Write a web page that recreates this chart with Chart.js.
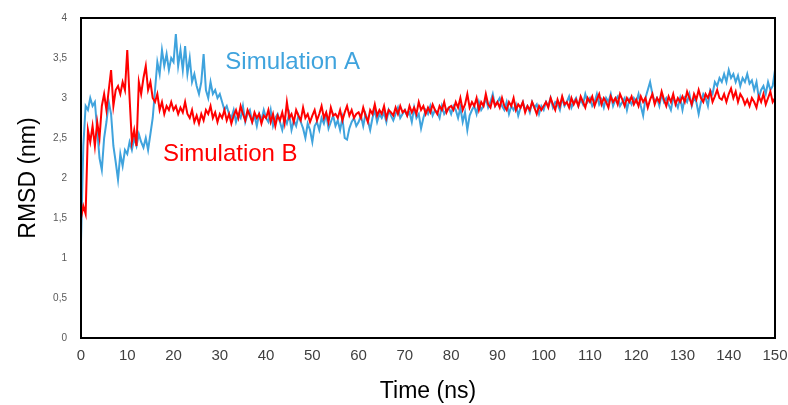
<!DOCTYPE html>
<html>
<head>
<meta charset="utf-8">
<script src="https://cdn.jsdelivr.net/npm/chart.js@4.4.1/dist/chart.umd.min.js"></script>
<style>
  html, body { margin: 0; padding: 0; background: #fff; }
  #wrap { width: 788px; height: 405px; }
</style>
</head>
<body>
<div id="wrap"><canvas id="rmsdChart" width="788" height="405"></canvas></div>
<script>
// Sampling step of the trajectory (ns)
const timeStep = 0.5;

// Simulation A (blue), RMSD in nm, one value every 0.5 ns from 0 to 150 ns
const simA = [
    1.2, 2.4, 2.9, 2.85, 3.0, 2.9, 2.95, 2.6, 2.25, 2.1, 2.5, 2.7, 2.95, 2.8, 2.4, 2.2, 1.98, 2.3, 2.15, 2.35,
    2.3, 2.45, 2.35, 2.5, 2.4, 2.55, 2.45, 2.38, 2.5, 2.35, 2.55, 2.75, 3.1, 3.45, 3.3, 3.6, 3.4, 3.55, 3.35, 3.5,
    3.45, 3.8, 3.4, 3.6, 3.35, 3.65, 3.3, 3.5, 3.2, 3.3, 3.15, 3.05, 3.2, 3.55, 3.1, 3.0, 3.2, 3.05, 3.1, 3.0,
    3.05, 2.95, 2.85, 2.9, 2.8, 2.75, 2.85, 2.7, 2.8, 2.75, 2.9, 2.7, 2.8, 2.85, 2.7, 2.78, 2.65, 2.8, 2.72, 2.85,
    2.75, 2.7, 2.85, 2.65, 2.75, 2.8, 2.7, 2.6, 2.75, 2.68, 2.8, 2.6, 2.72, 2.65, 2.78, 2.7, 2.62, 2.5, 2.68, 2.6,
    2.45, 2.65, 2.7, 2.6, 2.75, 2.68, 2.8, 2.62, 2.7, 2.78, 2.65, 2.72, 2.6, 2.75, 2.5, 2.48, 2.62, 2.7, 2.75, 2.65,
    2.7, 2.78, 2.65, 2.8, 2.72, 2.6, 2.75, 2.85, 2.7, 2.8, 2.75, 2.82, 2.7, 2.85, 2.78, 2.72, 2.8, 2.88, 2.75, 2.8,
    2.85, 2.78, 2.82, 2.7, 2.88, 2.75, 2.8, 2.62, 2.75, 2.85, 2.8, 2.9, 2.78, 2.85, 2.82, 2.75, 2.9, 2.8, 2.85, 2.88,
    2.8, 2.9, 2.85, 2.75, 2.88, 2.7, 2.82, 2.6, 2.78, 2.85, 2.9, 2.8, 2.95, 2.85, 2.9, 3.0, 2.88, 2.95, 3.05, 2.9,
    2.95, 3.0, 2.9, 2.85, 2.95, 2.8, 2.9, 2.85, 2.92, 2.78, 2.88, 2.95, 2.85, 2.9, 2.82, 2.95, 2.88, 2.92, 2.8, 2.9,
    2.85, 2.95, 2.9, 3.0, 2.88, 2.95, 2.92, 2.85, 3.0, 2.9, 2.95, 3.02, 2.88, 2.95, 3.0, 2.9, 2.98, 2.92, 3.05, 2.95,
    3.0, 2.9, 2.95, 3.05, 2.92, 2.98, 2.88, 3.0, 2.95, 3.05, 2.9, 2.98, 3.02, 2.9, 2.95, 3.0, 2.85, 2.98, 2.92, 3.0,
    2.95, 3.05, 2.9, 2.78, 3.0, 3.1, 3.2, 3.05, 2.95, 3.0, 2.9, 3.05, 2.95, 3.0, 2.92, 2.85, 3.0, 2.95, 2.88, 3.0,
    2.85, 3.0, 2.95, 3.05, 2.9, 3.0, 2.95, 2.8, 2.95, 3.05, 3.0, 2.9, 3.1, 3.05, 3.2, 3.15, 3.25, 3.2, 3.3, 3.2,
    3.35, 3.25, 3.3, 3.2, 3.28, 3.15, 3.25, 3.2, 3.3, 3.18, 3.22, 3.1, 3.2, 3.0, 3.1, 3.15, 3.05, 3.2, 3.1, 3.15,
    3.35
];

// Simulation B (red), same sampling
const simB = [
    1.5, 1.65, 1.55, 2.6, 2.45, 2.65, 2.4, 2.7, 2.5, 2.9, 3.05, 2.85, 3.1, 3.35, 2.9, 3.1, 3.15, 3.05, 3.2, 3.1,
    3.6, 3.0, 2.45, 2.6, 2.4, 3.2, 3.05, 3.25, 3.4, 3.1, 3.2, 3.0, 2.95, 3.05, 2.85, 2.95, 2.8, 2.9, 2.85, 2.95,
    2.85, 2.9, 2.8, 2.88, 2.82, 2.95, 2.8, 2.75, 2.85, 2.7, 2.78, 2.68, 2.8, 2.72, 2.85, 2.8, 2.9, 2.75, 2.82, 2.7,
    2.8, 2.75, 2.85, 2.72, 2.8, 2.68, 2.78, 2.85, 2.75, 2.9, 2.8, 2.72, 2.85, 2.78, 2.7, 2.82, 2.75, 2.8, 2.68, 2.78,
    2.75, 2.85, 2.7, 2.8, 2.65, 2.78, 2.72, 2.82, 2.68, 2.95, 2.75, 2.8, 2.7, 2.85, 2.78, 2.72, 2.88, 2.75, 2.8, 2.7,
    2.78, 2.85, 2.72, 2.8, 2.9, 2.75, 2.82, 2.7, 2.88, 2.78, 2.8, 2.75, 2.85, 2.72, 2.82, 2.9, 2.78, 2.85, 2.75, 2.8,
    2.82, 2.75, 2.88, 2.78, 2.7, 2.85, 2.8, 2.92, 2.78, 2.85, 2.8, 2.9, 2.75, 2.85, 2.82, 2.78, 2.88, 2.8, 2.9, 2.82,
    2.85, 2.78, 2.9, 2.82, 2.88, 2.8, 2.95, 2.85, 2.9, 2.8, 2.88, 2.82, 2.92, 2.85, 2.8, 2.9, 2.85, 2.95, 2.82, 2.88,
    2.9, 2.85, 2.95, 2.88, 3.0, 2.85, 2.92, 3.05, 2.88, 2.95, 2.9, 3.0, 2.85, 2.95, 2.9, 3.05, 2.92, 2.88, 3.0, 2.9,
    2.95, 2.88, 3.0, 2.9, 2.85, 2.95, 2.9, 3.0, 2.85, 2.92, 2.88, 2.95, 2.82, 2.9, 2.85, 2.95, 2.88, 2.8, 2.9, 2.85,
    2.9, 2.95, 2.88, 3.0, 2.92, 2.85, 2.98, 2.9, 3.02, 2.92, 2.95, 2.88, 3.0, 2.92, 2.98, 2.9, 3.02, 2.95, 2.88, 3.0,
    2.95, 3.02, 2.9, 2.98, 3.05, 2.92, 3.0, 2.95, 2.88, 3.02, 2.95, 3.0, 2.92, 3.05, 2.98, 2.9, 3.0, 2.95, 3.02, 2.92,
    2.98, 2.9, 3.02, 2.95, 3.0, 2.88, 2.98, 3.05, 2.92, 3.0, 2.95, 3.08, 2.98, 2.9, 3.02, 2.95, 3.05, 2.92, 3.0, 2.95,
    3.02, 2.95, 3.08, 3.0, 2.92, 3.05, 2.98, 3.1, 3.0, 2.95, 3.05, 3.0, 3.08, 2.95, 3.02, 3.1, 3.0, 2.98, 3.05, 2.95,
    3.05, 3.12, 3.0, 3.08, 2.95, 3.05, 3.0, 2.92, 2.98, 2.9, 3.0, 2.95, 2.88, 3.02, 2.95, 3.05, 2.92, 3.0, 3.08, 2.95,
    3.0
];

// Axis ticks
const xTicks = [0, 10, 20, 30, 40, 50, 60, 70, 80, 90, 100, 110, 120, 130, 140, 150];
const yTicks = [0, 0.5, 1, 1.5, 2, 2.5, 3, 3.5, 4];

// Inline labels next to the curves: [text, time, rmsd]
const labelA = ['Simulation A', 31.2, 3.45];
const labelB = ['Simulation B', 17.7, 2.29];

const blue = '#3fa3dd';
const red = '#ff0000';

function toPoints(values) {
    return values.map((v, i) => ({ x: i * timeStep, y: v }));
}

// Draws the black frame and the curve labels
const framePlugin = {
    id: 'frame',
    afterDatasetsDraw(chart) {
        const { ctx, chartArea: a, scales } = chart;
        ctx.save();
        ctx.strokeStyle = '#000';
        ctx.lineWidth = 2;
        ctx.strokeRect(a.left, a.top, a.right - a.left, a.bottom - a.top);

        ctx.font = '24px "Liberation Sans", Arial, sans-serif';
        ctx.textBaseline = 'middle';
        ctx.textAlign = 'left';
        ctx.fillStyle = blue;
        ctx.fillText(labelA[0], scales.x.getPixelForValue(labelA[1]), scales.y.getPixelForValue(labelA[2]));
        ctx.fillStyle = red;
        ctx.fillText(labelB[0], scales.x.getPixelForValue(labelB[1]), scales.y.getPixelForValue(labelB[2]));
        ctx.restore();
    }
};

const ctx = document.getElementById('rmsdChart').getContext('2d');

new Chart(ctx, {
    type: 'line',
    data: {
        datasets: [{
            label: 'Simulation B',
            data: toPoints(simB),
            borderColor: red,
            borderWidth: 2,
            pointRadius: 0,
            tension: 0
        }, {
            label: 'Simulation A',
            data: toPoints(simA),
            borderColor: blue,
            borderWidth: 2,
            pointRadius: 0,
            tension: 0
        }]
    },
    options: {
        responsive: false,
        animation: false,
        layout: {
            padding: { top: 18, right: 13, left: 0, bottom: 0 }
        },
        plugins: {
            legend: { display: false },
            tooltip: { enabled: false }
        },
        scales: {
            x: {
                type: 'linear',
                min: 0,
                max: 150,
                afterBuildTicks: (scale) => { scale.ticks = xTicks.map(v => ({ value: v })); },
                afterFit: (scale) => {
                    scale.height = 67;
                    scale.paddingLeft = 0;
                    scale.paddingRight = 0;
                },
                grid: { display: false, drawTicks: false },
                border: { display: true, color: '#000', width: 2 },
                ticks: {
                    padding: 9,
                    color: '#404040',
                    font: { family: '"Liberation Sans", Arial, sans-serif', size: 15 },
                    maxRotation: 0
                },
                title: {
                    display: true,
                    text: 'Time (ns)',
                    color: '#000',
                    padding: { top: 0, bottom: 0 },
                    font: { family: '"Liberation Sans", Arial, sans-serif', size: 23 }
                }
            },
            y: {
                min: 0,
                max: 4,
                afterBuildTicks: (scale) => { scale.ticks = yTicks.map(v => ({ value: v })); },
                afterFit: (scale) => {
                    scale.width = 81;
                    scale.paddingTop = 0;
                    scale.paddingBottom = 0;
                },
                grid: { display: false, drawTicks: false },
                border: { display: true, color: '#000', width: 2 },
                ticks: {
                    padding: 14,
                    color: '#595959',
                    font: { family: '"Liberation Sans", Arial, sans-serif', size: 10 },
                    callback: (v) => String(v).replace('.', ',')
                },
                title: {
                    display: true,
                    text: 'RMSD (nm)',
                    color: '#000',
                    padding: { top: 15, bottom: 0 },
                    font: { family: '"Liberation Sans", Arial, sans-serif', size: 23 }
                }
            }
        }
    },
    plugins: [framePlugin]
});
</script>
</body>
</html>
